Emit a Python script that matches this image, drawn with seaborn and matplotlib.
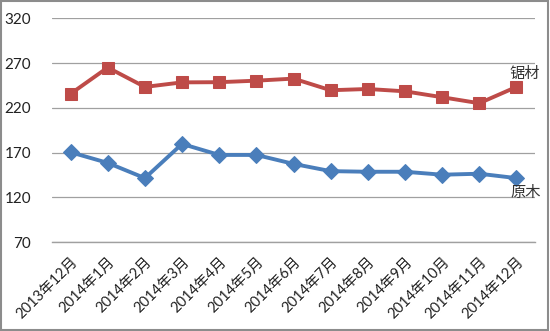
import matplotlib
matplotlib.use("Agg")
import matplotlib.pyplot as plt
import seaborn as sns
import pandas as pd
from matplotlib.patches import Rectangle

categories = ["2013年12月", "2014年1月", "2014年2月", "2014年3月", "2014年4月", "2014年5月",
              "2014年6月", "2014年7月", "2014年8月", "2014年9月", "2014年10月", "2014年11月", "2014年12月"]
sawn = [235.6, 265, 243.3, 248.4, 248.6, 250.3, 252.6, 239.6, 241, 238.4, 231.8, 225.1, 243.3]
logs = [170.3, 158.4, 141.4, 179.6, 167.3, 167.3, 157.3, 149.2, 148.5, 148.5, 145.2, 146.3, 141.4]
yticks = [70, 120, 170, 220, 270, 320]

sns.set_theme(style="white")
plt.rcParams['font.family'] = ['Lato', 'Noto Sans CJK SC', 'DejaVu Sans']

df = pd.DataFrame({"cat": categories, "锯材": sawn, "原木": logs})

fig = plt.figure(figsize=(5.5, 3.31), dpi=100)
ax = fig.add_axes([52/550, 1-242/331, (535-52)/550, (242-18.3)/331])

red = "#BE4B48"
blue = "#4A7EBB"
sns.lineplot(data=df, x="cat", y="锯材", ax=ax, color=red, marker="s", markersize=9,
             markeredgecolor=red, linewidth=2.8, sort=False)
sns.lineplot(data=df, x="cat", y="原木", ax=ax, color=blue, marker="D", markersize=8,
             markeredgecolor=blue, linewidth=2.8, sort=False)

ax.set_xlim(-0.5, len(categories) - 0.5)
ax.set_ylim(70, 320)
ax.set_yticks(yticks)
ax.set_yticklabels([str(v) for v in yticks], fontsize=11, color="#222222")
ax.grid(axis="y", color="#A0A0A0", linewidth=0.9)
ax.set_axisbelow(True)
for s in ["top", "right", "left"]:
    ax.spines[s].set_visible(False)
ax.spines["bottom"].set_color("#A0A0A0")
ax.spines["bottom"].set_linewidth(1.0)
ax.tick_params(axis="y", length=0, pad=15)
ax.tick_params(axis="x", length=0, pad=9)
ax.set_xticks(range(len(categories)))
ax.set_xticklabels(categories, rotation=45, ha="right", rotation_mode="anchor", fontsize=10.5, color="#222222")
ax.set_xlabel("")
ax.set_ylabel("")

ax.text(len(categories) - 1 - 0.2, sawn[-1] + 7, "锯材", fontsize=11, color="#333333", ha="left", va="bottom")
ax.text(len(categories) - 1 - 0.15, logs[-1] - 9, "原木", fontsize=11, color="#333333", ha="left", va="top")

fig.patches.append(Rectangle((0.002, 0.003), 0.995, 0.994, transform=fig.transFigure,
                             fill=False, edgecolor="#8C8C8C", linewidth=1.5))

fig.savefig("out.png", dpi=100)
